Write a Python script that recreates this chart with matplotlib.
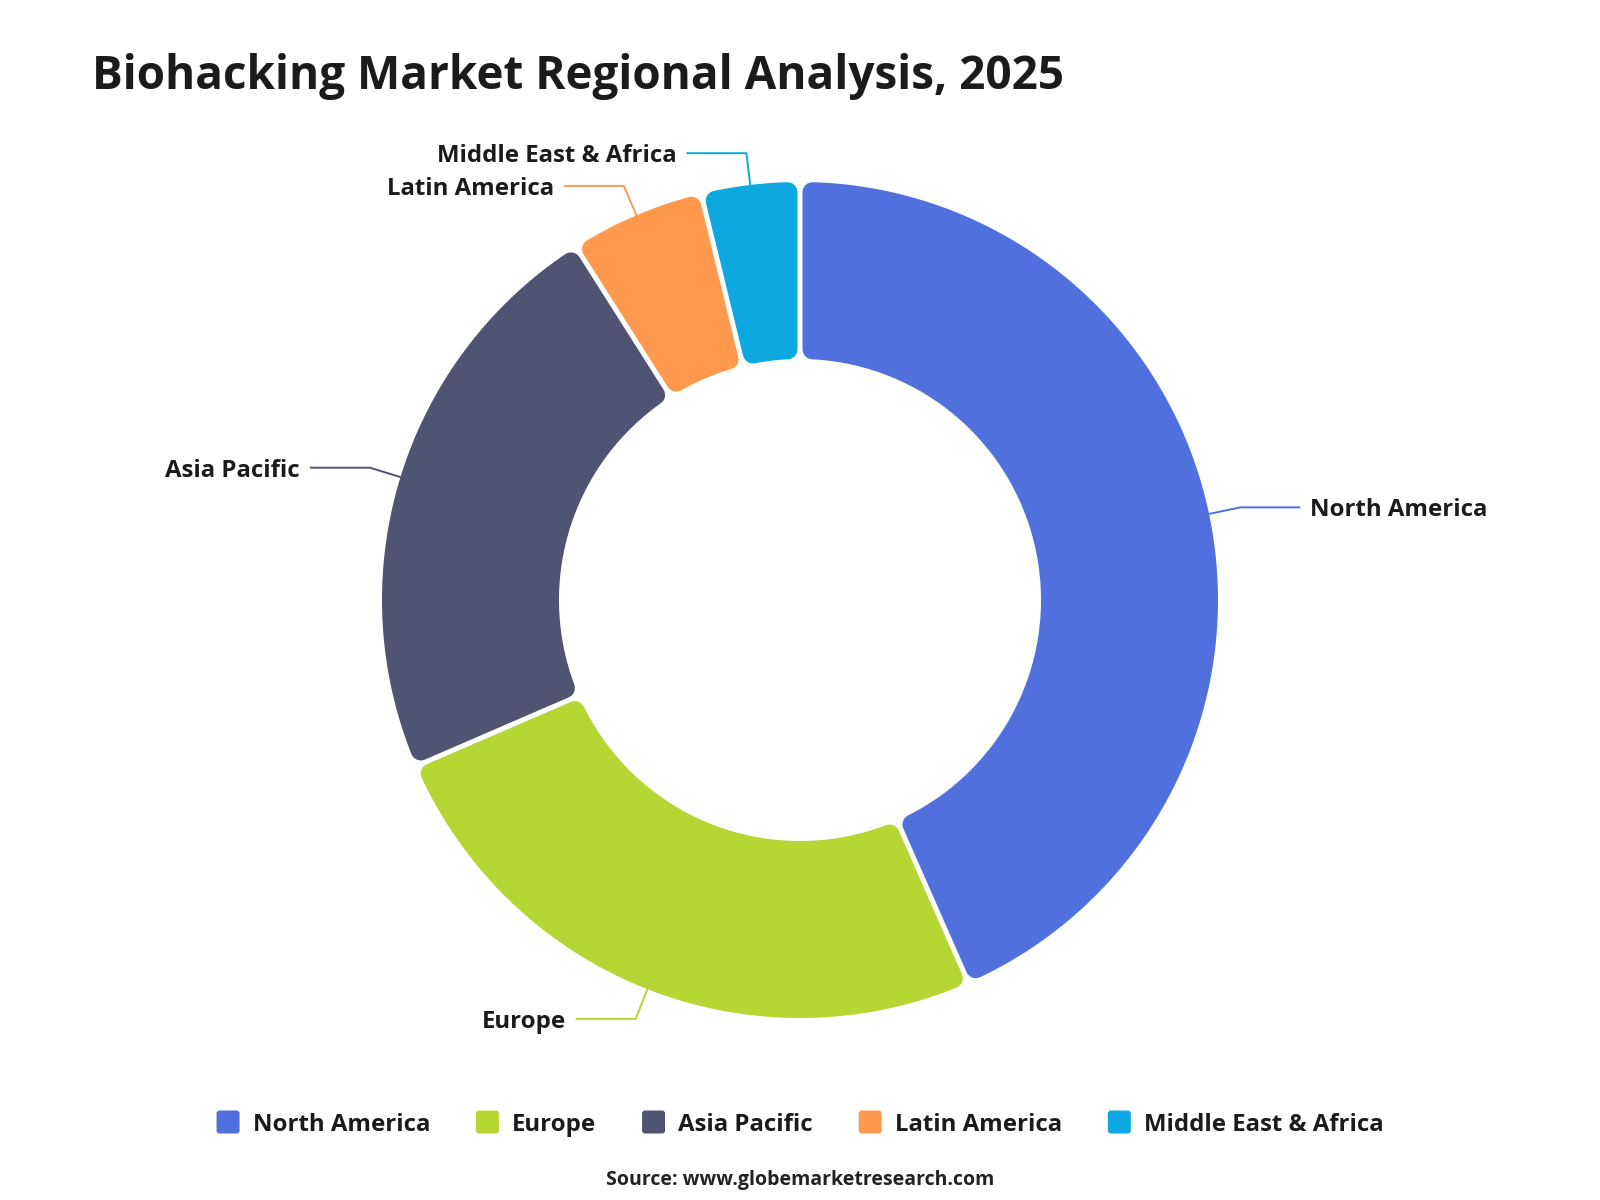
import os
import numpy as np
import matplotlib
matplotlib.use("Agg")
import matplotlib.pyplot as plt
from matplotlib import font_manager
from matplotlib.patches import Polygon, FancyBboxPatch

# dati (quote % per regione)
regions = ["North America", "Europe", "Asia Pacific", "Latin America", "Middle East & Africa"]
shares = [43.4, 25.1, 22.5, 5.2, 3.8]
colors = ["#5070dd", "#b6d634", "#505372", "#ff994d", "#0ca8df"]
title = "Biohacking Market Regional Analysis, 2025"
source = "Source: www.globemarketresearch.com"

# cerca una famiglia con un file grassetto vero (non variabile)
fam = "DejaVu Sans"
for cand in ["Open Sans", "Lato", "Noto Sans", "Roboto", "Liberation Sans"]:
    try:
        f = font_manager.findfont(font_manager.FontProperties(family=cand, weight="bold"),
                                  fallback_to_default=False)
    except Exception:
        continue
    base = os.path.basename(f).lower()
    if "bold" in base and "[" not in base:
        fam = cand
        break
plt.rcParams["font.family"] = [fam, "DejaVu Sans"]

W, H = 1600, 1200
DPI = 100
PT = 72 / DPI  # px -> pt

fig = plt.figure(figsize=(W / DPI, H / DPI), dpi=DPI)
ax = fig.add_axes([0, 0, 1, 1])
ax.set_xlim(0, W)
ax.set_ylim(H, 0)
ax.axis("off")

cx, cy = 800, 600
R_out, R_in = 418, 241
gap = 5
rc = 10  # raggio degli angoli arrotondati


def pt(r, a):
    """Punto a raggio r, angolo a (radianti, da ore 12 in senso orario)."""
    return cx + r * np.sin(a), cy - r * np.cos(a)


def sector_poly(a0, a1):
    d = gap / 2 + rc
    ro, ri = R_out - rc, R_in + rc
    o0, o1 = a0 + np.arcsin(d / ro), a1 - np.arcsin(d / ro)
    i0, i1 = a0 + np.arcsin(d / ri), a1 - np.arcsin(d / ri)
    ta = np.linspace(o0, o1, 200)
    tb = np.linspace(i1, i0, 200)
    xs = np.concatenate([cx + ro * np.sin(ta), cx + ri * np.sin(tb)])
    ys = np.concatenate([cy - ro * np.cos(ta), cy - ri * np.cos(tb)])
    return np.column_stack([xs, ys])


fracs = np.array(shares) / np.sum(shares)
edges = np.concatenate([[0], np.cumsum(fracs)]) * 2 * np.pi
label_fs = 17.3
text_col = "#1b1b1b"

for i, (name, col) in enumerate(zip(regions, colors)):
    a0, a1 = edges[i], edges[i + 1]
    poly = Polygon(sector_poly(a0, a1), closed=True, facecolor=col, edgecolor=col,
                   linewidth=2 * rc * PT, joinstyle="round")
    ax.add_patch(poly)

    # linea guida + etichetta
    am = (a0 + a1) / 2
    x1, y1 = pt(R_out - 2, am)
    x2, y2 = pt(R_out + 32, am)
    side = 1 if np.sin(am) >= 0 else -1
    x3 = x2 + side * 60
    ax.plot([x1, x2, x3], [y1, y2, y2], color=col, lw=1.4,
            solid_capstyle="butt")
    ax.text(x3 + side * 10, y2, name, ha="left" if side > 0 else "right",
            va="center_baseline", fontsize=label_fs, fontweight="bold", color=text_col)

# titolo
ax.text(92, 89, title, fontsize=33, fontweight="bold", color=text_col, va="baseline", ha="left")

# legenda manuale
fig.canvas.draw()
renderer = fig.canvas.get_renderer()
leg_y = 1122
box = 23
pad_txt = 13
item_gap = 46
texts = []
widths = []
for name in regions:
    t = ax.text(0, leg_y, name, fontsize=label_fs, fontweight="bold", color=text_col,
                va="center_baseline", ha="left")
    texts.append(t)
    widths.append(t.get_window_extent(renderer).width)
total = sum(box + pad_txt + w for w in widths) + item_gap * (len(regions) - 1)
x = (W - total) / 2
for t, w, col in zip(texts, widths, colors):
    ax.add_patch(FancyBboxPatch((x + 3, leg_y - box / 2 + 3), box - 6, box - 6,
                                boxstyle="round,pad=3", facecolor=col, edgecolor="none"))
    t.set_x(x + box + pad_txt)
    x += box + pad_txt + w + item_gap

ax.text(W / 2, 1177, source, fontsize=14, fontweight="bold", color="#222222",
        ha="center", va="center_baseline")

fig.savefig("out.png", dpi=DPI, facecolor="white")
